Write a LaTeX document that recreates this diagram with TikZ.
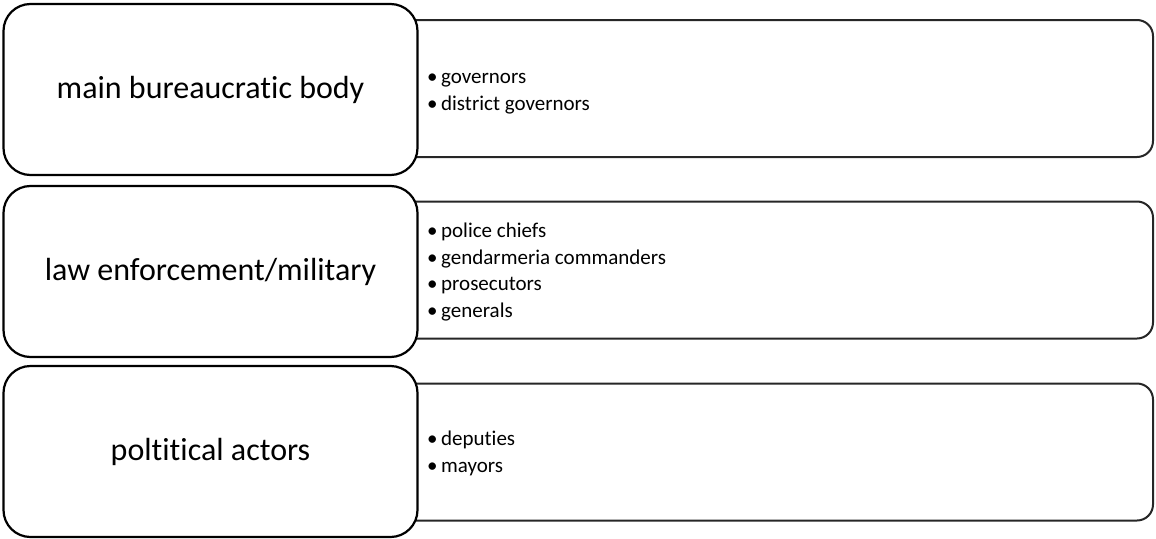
\documentclass[tikz,border=0pt]{standalone}
\usepackage{fontspec}
\setmainfont{Carlito}[RawFeature=-liga]
\begin{document}
\begin{tikzpicture}[x=1pt,y=-1pt,
  catbox/.style={draw=black, line width=2.2pt, fill=white, rounded corners=27pt,
    minimum width=414pt, minimum height=171pt, inner sep=0pt,
    font=\fontsize{32}{38}\selectfont},
  listbox/.style={draw=black!85, line width=2pt, fill=white, rounded corners=16pt,
    minimum width=753pt, minimum height=137pt, inner sep=0pt},
  listtext/.style={anchor=west, align=left, inner sep=0pt,
    font=\fontsize{21}{26.7}\selectfont}]
\useasboundingbox (0,0) rectangle (1156,538);

% list panels (drawn first, partly covered by the category boxes)
\node[listbox] (l1) at (776.5,88.5) {};
\node[listbox] (l2) at (776.5,270) {};
\node[listbox] (l3) at (776.5,452) {};

% category boxes
\node[catbox] (c1) at (210.5,89.5) {main bureaucratic body};
\node[catbox] (c2) at (210.5,271.5) {law enforcement/military};
\node[catbox] (c3) at (210.5,451.5) {poltitical actors};

% bullet lists
\node[listtext] (t1) at (427,94) {•\,governors\\•\,district governors};
\node[listtext] (t2) at (427,272) {•\,police chiefs\\•\,gendarmeria commanders\\•\,prosecutors\\•\,generals};
\node[listtext] (t3) at (427,453.5) {•\,deputies\\•\,mayors};
\end{tikzpicture}
\end{document}
